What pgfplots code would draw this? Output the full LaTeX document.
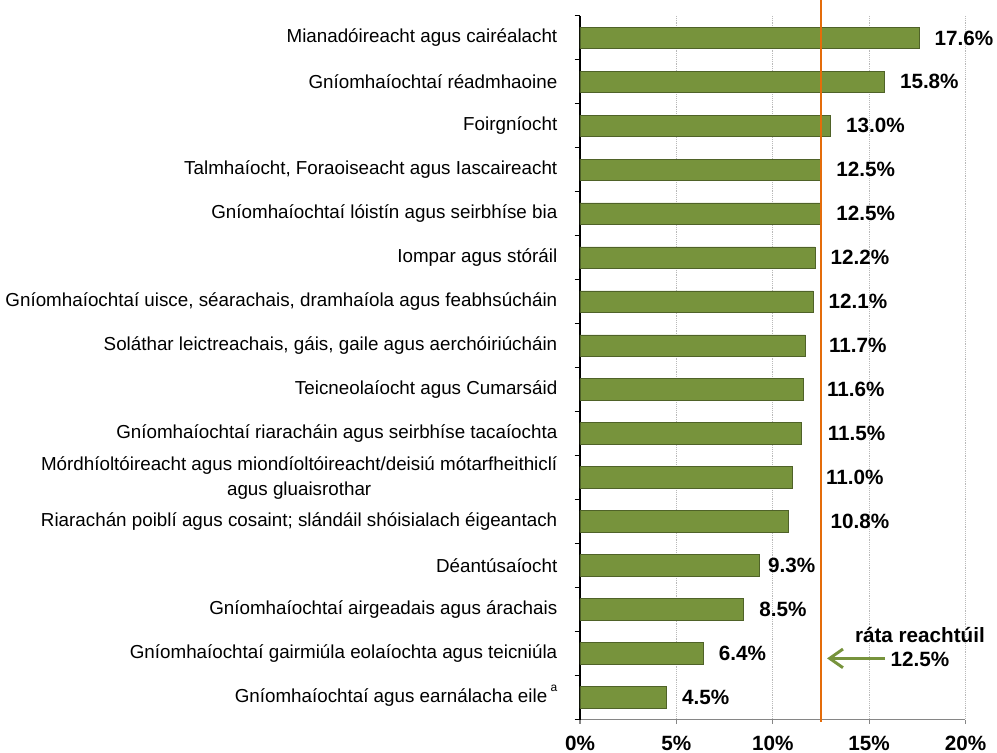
\documentclass[border=0pt]{standalone}
\usepackage{pgfplots}
\usepackage{pgfplotstable}
\pgfplotsset{compat=1.18}
\usepackage{fontspec}
\setmainfont{Liberation Sans}
\usetikzlibrary{arrows.meta}
\definecolor{bargreen}{HTML}{77933C}
\definecolor{baredge}{HTML}{4F6228}
\definecolor{refline}{HTML}{E46C0A}
\definecolor{axisgray}{HTML}{868686}
\pgfplotstableread{
val  idx  sh
17.6 0    0
15.8 1    0
13.0 2    0
12.5 3    0
12.5 4    0
12.2 5    0
12.1 6    0
11.7 7    6
11.6 8    6
11.5 9    8
11.0 10   13.9
10.8 11   20.3
9.3  12   -4.9
8.5  13   0
6.4  14   0
4.5  15   0
}\bardata
\begin{document}
\begin{tikzpicture}
\path[use as bounding box] (-435pt,-25.125pt) rectangle (312.75pt,539.625pt);
\begin{axis}[
  at={(0pt,0pt)}, anchor=south west,
  scale only axis, width=289.1pt, height=527.7pt,
  xmin=0, xmax=20, ymin=-0.5, ymax=15.5, y dir=reverse,
  axis lines*=left,
  x axis line style={axisgray, line width=1pt},
  y axis line style={black, line width=0.8pt},
  tick align=outside,
  major tick length=3pt, minor tick length=4pt,
  xtick={0,5,10,15,20},
  xticklabel={\pgfmathprintnumber[assume math mode=true]{\tick}\%},
  xticklabel style={font=\bfseries\fontsize{15.5}{18}\selectfont, yshift=-6pt},
  x tick style={axisgray, line width=0.8pt},
  xmajorgrids,
  major x grid style={densely dotted, gray!55, line width=0.6pt},
  ytick={0,...,15},
  yticklabels={
    {Mianadóireacht agus cairéalacht},
    {Gníomhaíochtaí réadmhaoine},
    {Foirgníocht},
    {Talmhaíocht, Foraoiseacht agus Iascaireacht},
    {Gníomhaíochtaí lóistín agus seirbhíse bia},
    {Iompar agus stóráil},
    {Gníomhaíochtaí uisce, séarachais, dramhaíola agus feabhsúcháin},
    {Soláthar leictreachais, gáis, gaile agus aerchóiriúcháin},
    {Teicneolaíocht agus Cumarsáid},
    {Gníomhaíochtaí riaracháin agus seirbhíse tacaíochta},
    {Mórdhíoltóireacht agus miondíoltóireacht/deisiú mótarfheithiclí\\agus gluaisrothar},
    {Riarachán poiblí agus cosaint; slándáil shóisialach éigeantach},
    {Déantúsaíocht},
    {Gníomhaíochtaí airgeadais agus árachais},
    {Gníomhaíochtaí gairmiúla eolaíochta agus teicniúla},
    {Gníomhaíochtaí agus earnálacha eile\hspace{2.5pt}\smash{\raisebox{8pt}{\fontsize{9}{9}\selectfont a}}}
  },
  major y tick style={draw=none},
  minor ytick={-0.5,0.5,...,15.5},
  minor y tick style={black, line width=0.8pt},
  yticklabel style={font=\fontsize{14.1}{18.8}\selectfont, align=center, anchor=east, xshift=-10.5pt},
  bar width=16.2pt,
  clip=false,
]
\addplot[xbar, fill=bargreen, draw=baredge, line width=0.6pt, point meta=x,
  visualization depends on={\thisrow{sh}\as\labsh},
  nodes near coords={\pgfmathprintnumber[fixed,fixed zerofill,precision=1,assume math mode=true]{\pgfplotspointmeta}\%},
  nodes near coords style={font=\bfseries\fontsize{15.5}{18}\selectfont, anchor=west, xshift=8pt+\labsh pt, text=black}]
  table[x=val, y=idx] {\bardata};
\addplot[refline, line width=1.8pt, no markers] coordinates {(12.5,-0.86) (12.5,15.55)};
\node[font=\bfseries\fontsize{15.5}{18}\selectfont] at (axis cs:17.64,13.58) {ráta reachtúil};
\node[font=\bfseries\fontsize{15.5}{18}\selectfont] at (axis cs:17.64,14.13) {12.5\%};
\draw[bargreen, line width=2.2pt, -{Straight Barb[length=10pt,width=14pt]}] (axis cs:15.83,14.11) -- (axis cs:12.82,14.11);
\end{axis}
\end{tikzpicture}
\end{document}
